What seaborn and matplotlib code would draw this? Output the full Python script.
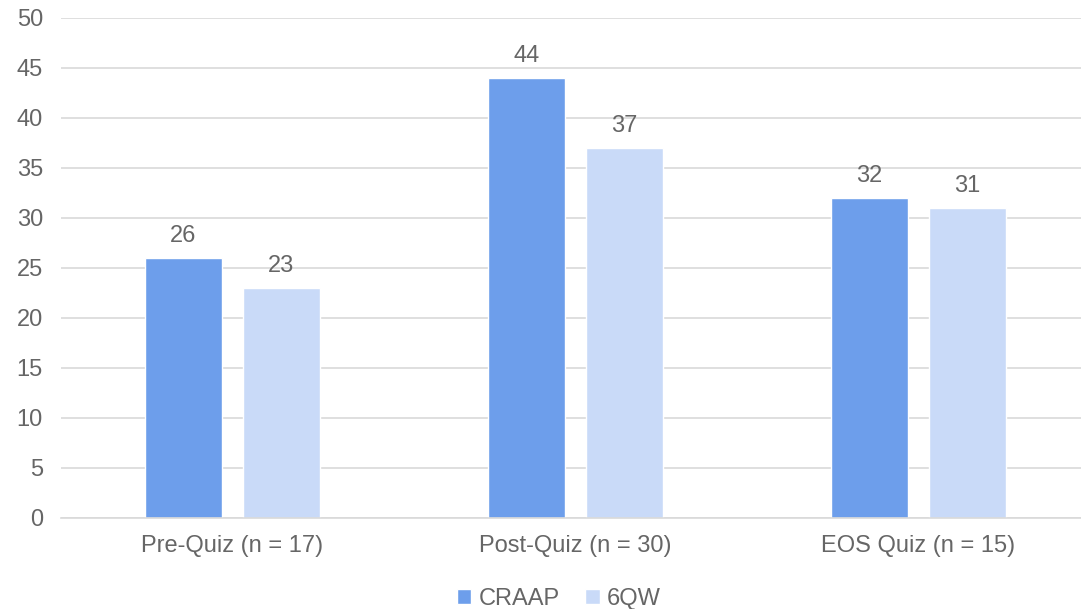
import matplotlib
matplotlib.use("Agg")
import matplotlib.pyplot as plt
import seaborn as sns
import pandas as pd

categories = ["Pre-Quiz (n = 17)", "Post-Quiz (n = 30)", "EOS Quiz (n = 15)"]
series_names = ["CRAAP", "6QW"]
craap = [26, 44, 32]
sixqw = [23, 37, 31]
yticks = list(range(0, 51, 5))

rows = []
for c, a, b in zip(categories, craap, sixqw):
    rows.append({"cat": c, "series": series_names[0], "val": a})
    rows.append({"cat": c, "series": series_names[1], "val": b})
df = pd.DataFrame(rows)

sns.set_theme(style="white")
plt.rcParams['font.family'] = ['Liberation Sans', 'DejaVu Sans']

gray = "#666666"
fs = 17
palette = {"CRAAP": "#6D9EEB", "6QW": "#C9DAF8"}

fig = plt.figure(figsize=(10.81, 6.09), dpi=100)
ax = fig.add_axes([61/1081, (609-518)/609, 1 - 61/1081, 500/609])

sns.barplot(data=df, x="cat", y="val", hue="series", palette=palette,
            width=0.571, gap=0.214, ax=ax, legend=True, saturation=1)

ax.set_ylim(0, 50)
ax.set_xlim(-0.5, 2.475)
ax.set_yticks(yticks)
ax.yaxis.grid(True, color="#D9D9D9", linewidth=1.2)
ax.set_axisbelow(True)
for s in ["top", "right", "left"]:
    ax.spines[s].set_visible(False)
ax.spines["bottom"].set_color("#D9D9D9")
ax.spines["bottom"].set_linewidth(1.2)
ax.tick_params(axis="both", length=0, labelsize=fs, labelcolor=gray)
ax.tick_params(axis="y", pad=13)
ax.tick_params(axis="x", pad=12)
ax.set_xlabel("")
ax.set_ylabel("")

for cont in ax.containers:
    ax.bar_label(cont, fmt="%g", padding=8, fontsize=fs, color=gray)

leg = ax.legend(loc="upper center", bbox_to_anchor=(0.488, -0.13), ncol=2,
                frameon=False, fontsize=fs, handlelength=0.6, handleheight=0.6,
                handletextpad=0.3, columnspacing=1.1, borderaxespad=0, borderpad=0.2)
for t in leg.get_texts():
    t.set_color(gray)

fig.savefig("out.png", dpi=100)
